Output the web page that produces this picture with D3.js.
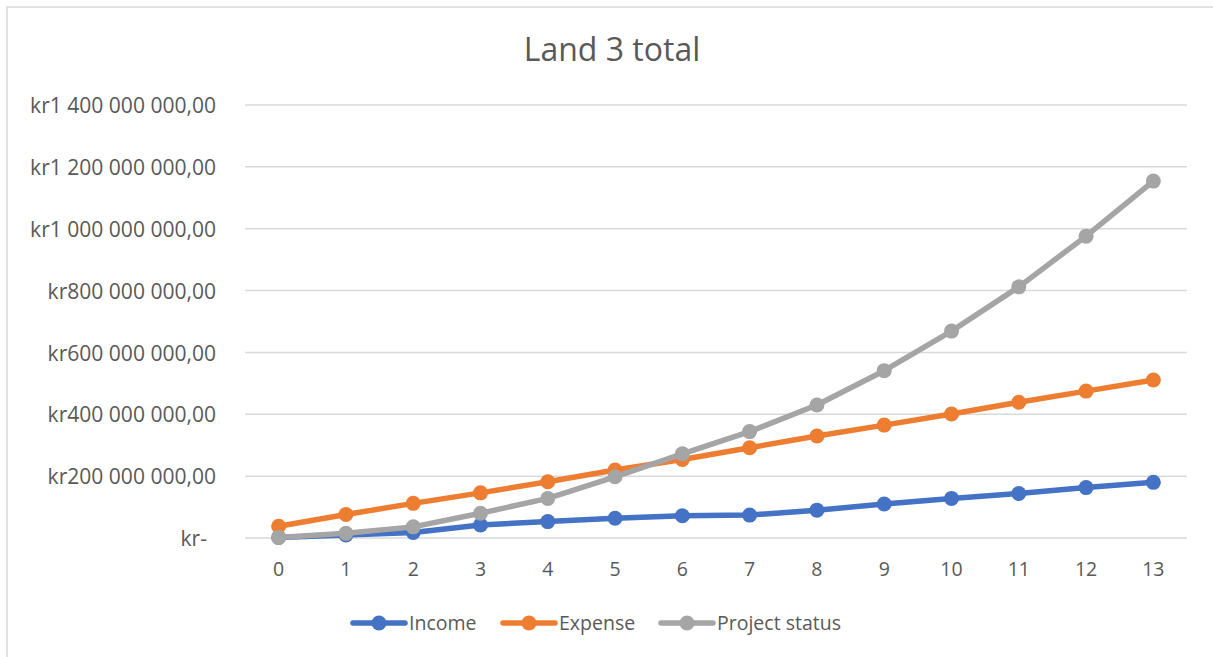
<!DOCTYPE html>
<html>
<head>
<meta charset="utf-8">
<script src="https://cdn.jsdelivr.net/npm/d3@7"></script>
<style>
  html, body { margin: 0; padding: 0; background: #fff; }
  svg { display: block; }
  text { font-family: "Open Sans", "Liberation Sans", sans-serif; fill: #595959; }
</style>
</head>
<body>
<svg id="chart" width="1213" height="657"></svg>
<script>
// Periods along the x axis
const categories = [0, 1, 2, 3, 4, 5, 6, 7, 8, 9, 10, 11, 12, 13];

// Series values in kroner
const income = [2e6, 10e6, 18e6, 42e6, 53e6, 64e6, 72e6, 74e6, 90e6, 110e6, 128e6, 144e6, 163e6, 180e6];
const expense = [38e6, 76e6, 112e6, 146e6, 182e6, 220e6, 254e6, 292e6, 330e6, 365e6, 401e6, 439e6, 475e6, 511e6];
const projectStatus = [2e6, 15e6, 36e6, 80e6, 128e6, 198e6, 272e6, 344e6, 430e6, 541e6, 669e6, 812e6, 976e6, 1154e6];

// Y axis tick values and their labels
const yTicks = [0, 200e6, 400e6, 600e6, 800e6, 1000e6, 1200e6, 1400e6];
const yTickLabels = ["kr-", "kr200 000 000,00", "kr400 000 000,00", "kr600 000 000,00",
  "kr800 000 000,00", "kr1 000 000 000,00", "kr1 200 000 000,00", "kr1 400 000 000,00"];

const seriesNames = ["Income", "Expense", "Project status"];
const seriesColors = ["#4472C4", "#ED7D31", "#A5A5A5"];
const seriesValues = [income, expense, projectStatus];

const svg = d3.select("#chart");

// Chart frame (open on the right and bottom edges of the window)
svg.append("rect")
  .attr("x", 7).attr("y", 7)
  .attr("width", 1230).attr("height", 680)
  .attr("fill", "none").attr("stroke", "#d9d9d9").attr("stroke-width", 1.5);

// Title
svg.append("text")
  .attr("x", 612).attr("y", 61)
  .attr("text-anchor", "middle")
  .style("font-size", "32px")
  .text("Land 3 total");

const plotLeft = 245, plotRight = 1187, plotTop = 105, plotBottom = 538;

const x = d3.scaleBand().domain(categories).range([plotLeft, plotRight]).padding(0);
const cx = d => x(d) + x.bandwidth() / 2;
const y = d3.scaleLinear().domain([0, 1400e6]).range([plotBottom, plotTop]);

// Horizontal gridlines
svg.append("g")
  .selectAll("line")
  .data(yTicks)
  .join("line")
  .attr("x1", plotLeft).attr("x2", plotRight)
  .attr("y1", d => y(d)).attr("y2", d => y(d))
  .attr("stroke", "#d9d9d9").attr("stroke-width", 1.5);

// Y axis labels
const yAxis = d3.axisLeft(y)
  .tickValues(yTicks)
  .tickSize(0)
  .tickPadding(0)
  .tickFormat((d, i) => yTickLabels[i]);
const yAxisG = svg.append("g").attr("transform", "translate(216,0)").call(yAxis);
yAxisG.select(".domain").remove();
const yLabels = yAxisG.selectAll("text")
  .style("font-size", "19.5px")
  .style("font-family", null)
  .attr("fill", null)
  .attr("dy", "0.36em")
  .attr("dx", (d, i) => i === 0 ? -9 : 0);

// Size the y labels so the widest one spans 186px
const widest = d3.max(yLabels.nodes(), n => n.getComputedTextLength());
if (widest > 0) {
  const fs = Math.min(22, 19.5 * 186 / widest);
  yLabels.style("font-size", fs + "px");
}

// X axis labels
const xAxis = d3.axisBottom(x).tickSize(0).tickPadding(0);
const xAxisG = svg.append("g").attr("transform", `translate(0,${plotBottom})`).call(xAxis);
xAxisG.select(".domain").remove();
xAxisG.selectAll("text")
  .style("font-size", "19.5px")
  .style("font-family", null)
  .attr("fill", null)
  .attr("dy", null)
  .attr("y", 38);

// Lines and markers
const line = d3.line().x((d, i) => cx(categories[i])).y(d => y(d));
seriesValues.forEach((vals, s) => {
  const g = svg.append("g");
  g.append("path")
    .datum(vals)
    .attr("d", line)
    .attr("fill", "none")
    .attr("stroke", seriesColors[s])
    .attr("stroke-width", 5.5)
    .attr("stroke-linejoin", "round")
    .attr("stroke-linecap", "round");
  g.selectAll("circle")
    .data(vals)
    .join("circle")
    .attr("cx", (d, i) => cx(categories[i]))
    .attr("cy", d => y(d))
    .attr("r", 7.5)
    .attr("fill", seriesColors[s]);
});

// Legend
const legendX = [353, 503, 661];
const legendY = 623;
const legend = svg.append("g");
seriesNames.forEach((name, s) => {
  const g = legend.append("g").attr("transform", `translate(${legendX[s]},${legendY})`);
  g.append("line")
    .attr("x1", 0).attr("x2", 52)
    .attr("y1", 0).attr("y2", 0)
    .attr("stroke", seriesColors[s]).attr("stroke-width", 5.5)
    .attr("stroke-linecap", "round");
  g.append("circle").attr("cx", 26).attr("cy", 0).attr("r", 7.5).attr("fill", seriesColors[s]);
  g.append("text")
    .attr("x", 56).attr("y", 0).attr("dy", "0.36em")
    .style("font-size", "19.5px")
    .text(name);
});
</script>
</body>
</html>
